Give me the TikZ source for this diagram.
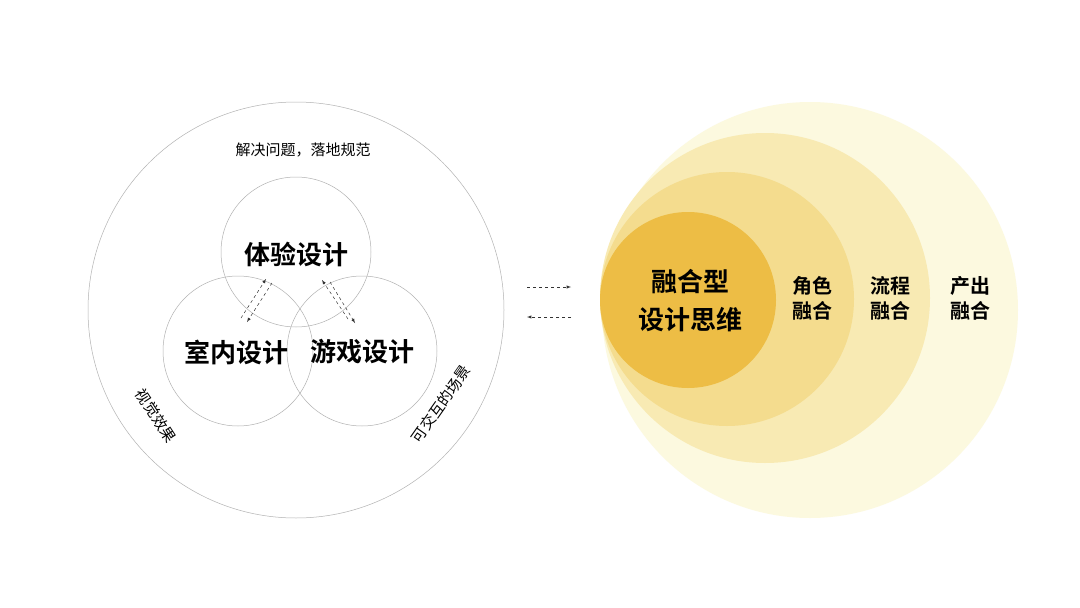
\documentclass[tikz,border=0pt]{standalone}
\usepackage{fontspec}
\setmainfont{Noto Sans CJK SC}
\newfontfamily\cjkb{Noto Sans CJK SC Bold}
\begin{document}
\begin{tikzpicture}[x=1pt,y=-1pt,
  ring/.style={draw=black!30,line width=0.5pt},
  big/.style={font=\cjkb\fontsize{26}{30}\selectfont},
  med/.style={font=\cjkb\fontsize{20}{25}\selectfont,align=center},
  small/.style={font=\fontsize{15}{17}\selectfont},
  da/.style={dash pattern=on 3pt off 3pt,-latex,line width=0.5pt,black!80}]
\useasboundingbox (0,0) rectangle (1080,608);
\fill[white] (0,0) rectangle (1080,608);
% left
\draw[ring] (296,310) circle (208);
\draw[ring] (296,252) circle (75);
\draw[ring] (238,351) circle (75);
\draw[ring] (362,351) circle (75);
\node[big] (ty) at (296,254) {体验设计};
\node[big] (sn) at (236,352) {室内设计};
\node[big] (yx) at (362,352) {游戏设计};
\node[small] (top) at (303,150) {解决问题，落地规范};
\node[small,rotate=-57] (sj) at (156,416) {视觉效果};
\node[small,rotate=55] (kj) at (441,404) {可交互的场景};
\coordinate (a1) at (241,318); \coordinate (a2) at (266,279);
\coordinate (b1) at (272,283); \coordinate (b2) at (247,322);
\draw[da] (a1) -- (a2);
\draw[da] (b1) -- (b2);
\coordinate (r1) at (322,280); \coordinate (r2) at (348,319);
\coordinate (s1) at (330,282); \coordinate (s2) at (355,323);
\draw[da] (r2) -- (r1);
\draw[da] (s1) -- (s2);
\coordinate (m1) at (527,287); \coordinate (m2) at (571,287);
\coordinate (n1) at (571,317); \coordinate (n2) at (527,317);
\draw[da] (m1) -- (m2);
\draw[da] (n1) -- (n2);
% right
\definecolor{c1}{HTML}{FCF9DF}\definecolor{c2}{HTML}{F8EAB3}
\definecolor{c3}{HTML}{F4DC8E}\definecolor{c4}{HTML}{EDBD45}
\fill[c1] (810,310) circle (208);
\fill[c2] (765,298) circle (165);
\fill[c3] (727,299) circle (127);
\fill[c4] (688,300) circle (88);
\node[med,font=\cjkb\fontsize{26}{38}\selectfont] (core) at (690,301) {融合型\\设计思维};
\node[med] (js) at (812,298) {角色\\融合};
\node[med] (lc) at (890,298) {流程\\融合};
\node[med] (cc) at (970,298) {产出\\融合};
\end{tikzpicture}
\end{document}
